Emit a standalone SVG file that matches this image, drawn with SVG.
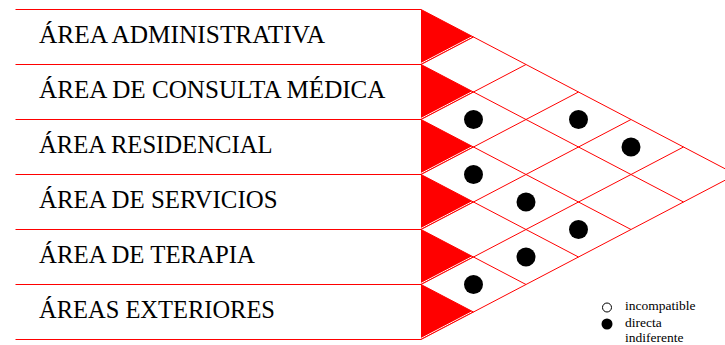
<svg xmlns="http://www.w3.org/2000/svg" width="725" height="345" viewBox="0 0 725 345">
<style>
.rowline{stroke:#ff0000;stroke-width:1;fill:none}
.lbl{font-family:"Liberation Serif","Times New Roman",serif;font-size:24.8px;fill:#000}
.tri{fill:#ff0000;stroke:none}
.gap{stroke:#ffffff;stroke-width:1;fill:none}
.grid line{stroke:#ff0000;stroke-width:1}
.dot{fill:#000}
.leg{font-family:"Liberation Serif","Times New Roman",serif;font-size:13.5px;fill:#000}
</style>
<rect width="725" height="345" fill="#ffffff"/>

<g id="row-administrativa">
<line class="rowline" x1="15.5" y1="9.5" x2="421" y2="9.5"/>
<text class="lbl" x="39" y="43.3" textLength="286" lengthAdjust="spacingAndGlyphs">ÁREA ADMINISTRATIVA</text>
<polygon class="tri" points="421,9.5 473.5,37 421,37"/>
<polygon class="tri" points="421,37 473.5,37 421,64.5"/>
<line class="gap" x1="421" y1="63.4" x2="472.8" y2="36.3"/>
</g>
<g id="row-consulta">
<line class="rowline" x1="15.5" y1="64.5" x2="421" y2="64.5"/>
<text class="lbl" x="39" y="98.4" textLength="346.5" lengthAdjust="spacingAndGlyphs">ÁREA DE CONSULTA MÉDICA</text>
<polygon class="tri" points="421,64.5 473.5,92 421,92"/>
<polygon class="tri" points="421,92 473.5,92 421,119.5"/>
<line class="gap" x1="421" y1="118.4" x2="472.8" y2="91.3"/>
</g>
<g id="row-residencial">
<line class="rowline" x1="15.5" y1="119.5" x2="421" y2="119.5"/>
<text class="lbl" x="39" y="153.4" textLength="233.5" lengthAdjust="spacingAndGlyphs">ÁREA RESIDENCIAL</text>
<polygon class="tri" points="421,119.5 473.5,147 421,147"/>
<polygon class="tri" points="421,147 473.5,147 421,174.5"/>
<line class="gap" x1="421" y1="173.4" x2="472.8" y2="146.3"/>
</g>
<g id="row-servicios">
<line class="rowline" x1="15.5" y1="174.5" x2="421" y2="174.5"/>
<text class="lbl" x="39" y="208.4" textLength="238.5" lengthAdjust="spacingAndGlyphs">ÁREA DE SERVICIOS</text>
<polygon class="tri" points="421,174.5 473.5,202 421,202"/>
<polygon class="tri" points="421,202 473.5,202 421,229.5"/>
<line class="gap" x1="421" y1="228.4" x2="472.8" y2="201.3"/>
</g>
<g id="row-terapia">
<line class="rowline" x1="15.5" y1="229.5" x2="421" y2="229.5"/>
<text class="lbl" x="39" y="263.4" textLength="216" lengthAdjust="spacingAndGlyphs">ÁREA DE TERAPIA</text>
<polygon class="tri" points="421,229.5 473.5,257 421,257"/>
<polygon class="tri" points="421,257 473.5,257 421,284.5"/>
<line class="gap" x1="421" y1="283.4" x2="472.8" y2="256.3"/>
</g>
<g id="row-exteriores">
<line class="rowline" x1="15.5" y1="284.5" x2="421" y2="284.5"/>
<line class="rowline" x1="15.5" y1="339.5" x2="421" y2="339.5"/>
<text class="lbl" x="39" y="318.4" textLength="236" lengthAdjust="spacingAndGlyphs">ÁREAS EXTERIORES</text>
<polygon class="tri" points="421,284.5 473.5,312 421,312"/>
<polygon class="tri" points="421,312 473.5,312 421,339.5"/>
<line class="gap" x1="421" y1="338.4" x2="472.8" y2="311.3"/>
</g>

<g id="connectors" class="grid">
<line x1="421" y1="9.5" x2="736" y2="174.5"/>
<line x1="421" y1="64.5" x2="683.5" y2="202"/>
<line x1="421" y1="119.5" x2="631" y2="229.5"/>
<line x1="421" y1="174.5" x2="578.5" y2="257"/>
<line x1="421" y1="229.5" x2="526" y2="284.5"/>
<line x1="421" y1="284.5" x2="473.5" y2="312"/>
<line x1="421" y1="64.5" x2="473.5" y2="37"/>
<line x1="421" y1="119.5" x2="526" y2="64.5"/>
<line x1="421" y1="174.5" x2="578.5" y2="92"/>
<line x1="421" y1="229.5" x2="631" y2="119.5"/>
<line x1="421" y1="284.5" x2="683.5" y2="147"/>
<line x1="421" y1="339.5" x2="736" y2="174.5"/>
</g>

<g id="relations">
<circle class="dot" cx="578.5" cy="119.5" r="9.5"/>
<circle class="dot" cx="631" cy="147" r="9.5"/>
<circle class="dot" cx="473.5" cy="119.5" r="9.5"/>
<circle class="dot" cx="473.5" cy="174.5" r="9.5"/>
<circle class="dot" cx="526" cy="202" r="9.5"/>
<circle class="dot" cx="578.5" cy="229.5" r="9.5"/>
<circle class="dot" cx="526" cy="257" r="9.5"/>
<circle class="dot" cx="473.5" cy="284.5" r="9.5"/>
</g>

<g id="legend">
<circle cx="607" cy="307.5" r="4.5" fill="#ffffff" stroke="#000000" stroke-width="1"/>
<circle cx="607" cy="324" r="5.5" fill="#000000"/>
<text class="leg" x="625" y="310">incompatible</text>
<text class="leg" x="625" y="327">directa</text>
<text class="leg" x="625" y="342">indiferente</text>
</g>
</svg>
